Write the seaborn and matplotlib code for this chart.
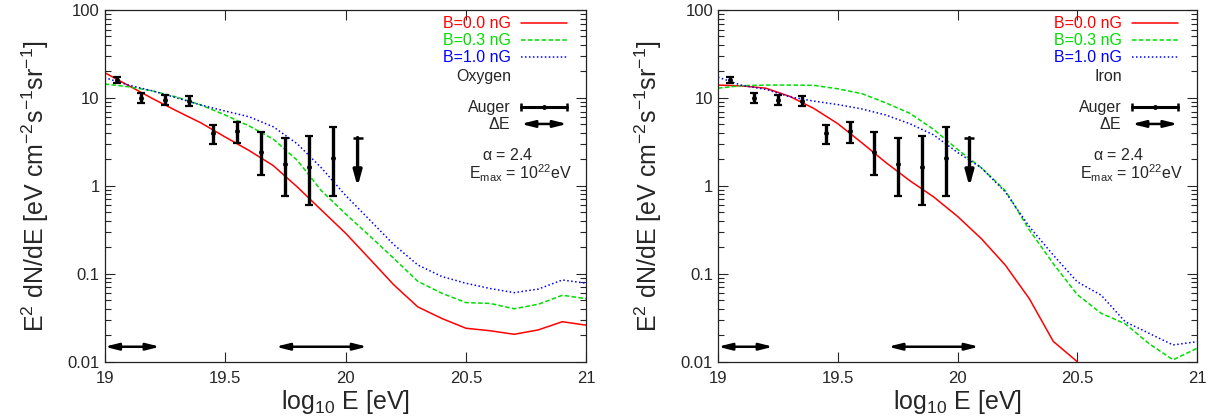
import numpy as np
import pandas as pd
import matplotlib
matplotlib.use('Agg')
import matplotlib.pyplot as plt
import seaborn as sns
from matplotlib.ticker import FixedLocator, FuncFormatter, LogLocator, NullFormatter

sns.set_style('ticks')
plt.rcParams['font.family'] = ['Liberation Sans', 'DejaVu Sans']
plt.rcParams['mathtext.fontset'] = 'custom'
plt.rcParams['mathtext.rm'] = 'Liberation Sans'
plt.rcParams['mathtext.it'] = 'Liberation Sans:italic'
plt.rcParams['mathtext.default'] = 'regular'

# model curves on a log10 E grid
logE = [19.0, 19.1, 19.2, 19.3, 19.4, 19.5, 19.6, 19.7, 19.8, 19.9, 20.0,
        20.1, 20.2, 20.3, 20.4, 20.5, 20.6, 20.7, 20.8, 20.9, 21.0]

oxy_b00 = [19.4, 13.8, 9.8, 7.1, 5.2, 3.6, 2.52, 1.70, 0.97, 0.53, 0.29,
           0.148, 0.075, 0.042, 0.031, 0.024, 0.0225, 0.0205, 0.023, 0.0285, 0.026]
oxy_b03 = [14.4, 13.4, 12.0, 10.2, 8.3, 6.4, 4.8, 3.4, 1.95, 0.88, 0.48,
           0.27, 0.15, 0.082, 0.060, 0.047, 0.046, 0.040, 0.045, 0.057, 0.052]
oxy_b10 = [17.0, 14.0, 12.0, 10.0, 8.3, 7.1, 6.1, 4.7, 3.0, 1.6, 0.78,
           0.41, 0.215, 0.126, 0.093, 0.078, 0.068, 0.061, 0.067, 0.085, 0.078]

iron_b00 = [14.0, 13.7, 12.9, 10.4, 7.6, 5.1, 3.1, 1.85, 1.15, 0.75, 0.45,
            0.25, 0.125, 0.052, 0.017, 0.010]
iron_b03 = [12.9, 13.8, 14.0, 14.0, 13.9, 12.7, 11.2, 8.8, 6.7, 4.4, 2.6,
            1.6, 0.88, 0.315, 0.13, 0.058, 0.0355, 0.027, 0.016, 0.0105, 0.0142]
iron_b10 = [17.2, 13.9, 12.5, 10.3, 9.2, 8.4, 7.5, 6.4, 5.1, 3.8, 2.4,
            1.6, 0.85, 0.343, 0.163, 0.081, 0.057, 0.0285, 0.021, 0.0155, 0.0169]

# Auger data points
auger_x = [19.05, 19.15, 19.25, 19.35, 19.45, 19.55, 19.65, 19.75, 19.85, 19.95]
auger_y = [16.0, 9.9, 9.5, 9.2, 3.96, 4.2, 2.41, 1.77, 1.65, 2.09]
auger_hi = [17.1, 11.3, 10.8, 10.5, 4.9, 5.27, 4.06, 3.52, 3.69, 4.7]
auger_lo = [14.6, 8.7, 8.3, 8.0, 2.99, 3.05, 1.33, 0.766, 0.605, 0.766]
# upper limit
ul_x = 20.05
ul_top = 3.54
ul_tip = 0.98
# energy-resolution arrows
de_y = 0.0148
de_ranges = [(19.0, 19.23), (19.71, 20.09)]

panels = [
    ('Oxygen', oxy_b00, oxy_b03, oxy_b10),
    ('Iron', iron_b00, iron_b03, iron_b10),
]
labels = ['B=0.0 nG', 'B=0.3 nG', 'B=1.0 nG']
colors = ['#ff0000', '#00dd00', '#0000ff']
styles = ['-', (0, (3, 1.5)), (0, (1, 1.6))]

fig = plt.figure(figsize=(12.29, 4.2), dpi=100)
positions = [[0.0851, 0.1388, 0.3921, 0.8374], [0.5842, 0.1388, 0.3898, 0.8374]]

for pos, (name, c0, c3, c10) in zip(positions, panels):
    ax = fig.add_axes(pos)
    for vals, col, ls in zip([c0, c3, c10], colors, styles):
        df = pd.DataFrame({'logE': logE[:len(vals)], 'flux': vals})
        sns.lineplot(data=df, x='logE', y='flux', ax=ax, color=col,
                     linestyle=ls, linewidth=1.1)

    yerr = [np.array(auger_y) - np.array(auger_lo), np.array(auger_hi) - np.array(auger_y)]
    ax.errorbar(auger_x, auger_y, yerr=yerr, fmt='o', ms=2.5, color='black',
                elinewidth=2.4, capsize=3, capthick=1.6, zorder=5)
    ax.plot([ul_x], [ul_top], marker='_', ms=7, mew=1.8, color='black', zorder=5)
    ax.annotate('', xy=(ul_x, ul_tip), xytext=(ul_x, ul_top),
                arrowprops=dict(arrowstyle='-|>,head_length=0.9,head_width=0.25',
                                lw=2.4, color='black', shrinkA=0, shrinkB=0))
    for a, b in de_ranges:
        ax.annotate('', xy=(b, de_y), xytext=(a, de_y),
                    arrowprops=dict(arrowstyle='<|-|>,head_length=0.8,head_width=0.2',
                                    lw=1.8, color='black', shrinkA=0, shrinkB=0))

    ax.set_yscale('log')
    ax.set_xlim(19, 21)
    ax.set_ylim(0.01, 100)
    ax.xaxis.set_major_locator(FixedLocator([19, 19.5, 20, 20.5, 21]))
    ax.xaxis.set_major_formatter(FuncFormatter(lambda v, p: '%g' % v))
    ax.yaxis.set_major_locator(LogLocator(base=10, numticks=10))
    ax.yaxis.set_minor_locator(LogLocator(base=10, subs=np.arange(2, 10), numticks=20))
    ax.yaxis.set_major_formatter(FuncFormatter(lambda v, p: '%g' % v))
    ax.yaxis.set_minor_formatter(NullFormatter())
    ax.tick_params(which='both', direction='in', top=True, right=True, labelsize=12)
    ax.tick_params(which='major', length=7, width=0.8)
    ax.tick_params(which='minor', length=4, width=0.8)
    ax.tick_params(axis='x', pad=7)
    for s in ax.spines.values():
        s.set_linewidth(0.9)
        s.set_color('#222222')

    ax.set_xlabel(r'log$_{10}$ E [eV]', fontsize=18, labelpad=1)
    ax.set_ylabel(r'E$^2$ dN/dE [eV cm$^{-2}$s$^{-1}$sr$^{-1}$]', fontsize=18, labelpad=12)

    # key, drawn in axes fractions
    tr = ax.transAxes
    for i, (lab, col, ls) in enumerate(zip(labels, colors, styles)):
        yy = 0.963 - i * 0.049
        ax.text(0.843, yy, lab, color=col, ha='right', va='center', fontsize=11.5, transform=tr)
        ax.plot([0.864, 0.960], [yy, yy], color=col, linestyle=ls, lw=1.1, transform=tr)
    ax.text(0.843, 0.812, name, ha='right', va='center', fontsize=11.5, transform=tr)
    ax.text(0.843, 0.724, 'Auger', ha='right', va='center', fontsize=11.5, transform=tr)
    ax.plot([0.864, 0.960], [0.724, 0.724], color='black', lw=2.2, transform=tr)
    ax.plot([0.864, 0.960], [0.724, 0.724], color='black', lw=0, marker='|', ms=6,
            mew=1.8, transform=tr)
    ax.plot([0.912], [0.724], color='black', marker='o', ms=2.5, transform=tr)
    ax.text(0.843, 0.676, r'$\Delta$E', ha='right', va='center', fontsize=11.5, transform=tr)
    ax.annotate('', xy=(0.960, 0.676), xytext=(0.864, 0.676), xycoords=tr, textcoords=tr,
                arrowprops=dict(arrowstyle='<|-|>,head_length=0.8,head_width=0.2',
                                lw=1.8, color='black', shrinkA=0, shrinkB=0))
    ax.text(0.89, 0.588, r'$\alpha$ = 2.4', ha='right', va='center', fontsize=11.5, transform=tr)
    ax.text(0.97, 0.537, r'E$_{max}$ = 10$^{22}$eV', ha='right', va='center',
            fontsize=11.5, transform=tr)

fig.savefig('out.png', dpi=100)
